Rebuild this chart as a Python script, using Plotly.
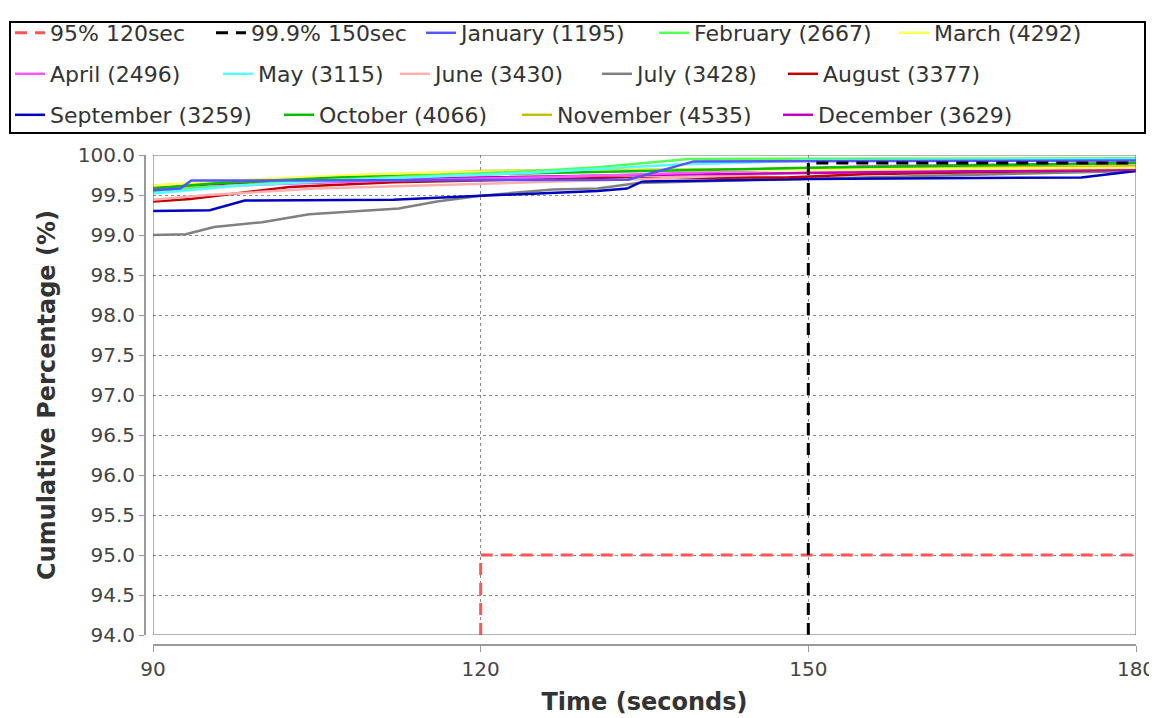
import plotly.graph_objects as go

# ---------------- data ----------------
months = ["January (1195)", "February (2667)", "March (4292)", "April (2496)",
          "May (3115)", "June (3430)", "July (3428)", "August (3377)",
          "September (3259)", "October (4066)", "November (4535)", "December (3629)"]
colors = ["#5555FF", "#55FF55", "#FFFF55", "#FF55FF", "#55FFFF", "#FFAFAF",
          "#808080", "#C00000", "#0000C0", "#00C000", "#C0C000", "#C000C0"]

jan_t = [90, 92.5, 93.5, 133.5, 139.5, 180]
jan_v = [99.56, 99.58, 99.68, 99.69, 99.92, 99.93]
feb_t = [90, 95, 105, 115, 125, 131, 139, 180]
feb_v = [99.55, 99.6, 99.68, 99.74, 99.8, 99.85, 99.95, 99.96]
mar_t = [90, 100, 110, 118, 130, 150, 180]
mar_v = [99.62, 99.7, 99.76, 99.79, 99.8, 99.82, 99.84]
apr_t = [90, 100, 112, 125, 140, 155, 180]
apr_v = [99.57, 99.63, 99.68, 99.72, 99.78, 99.86, 99.9]
may_t = [90, 98, 110, 125, 138, 150, 180]
may_v = [99.52, 99.62, 99.7, 99.78, 99.88, 99.93, 99.95]
jun_t = [90, 95, 105, 120, 135, 150, 180]
jun_v = [99.44, 99.5, 99.58, 99.64, 99.7, 99.78, 99.85]
jul_t = [90, 93, 95.6, 100, 104.3, 112.5, 116, 120, 126.6, 130.7, 134.4, 145.3, 155, 180]
jul_v = [99.0, 99.01, 99.1, 99.16, 99.26, 99.33, 99.42, 99.49, 99.57, 99.58, 99.65, 99.69, 99.72, 99.8]
aug_t = [90, 93.4, 102.5, 112, 130, 148, 155, 180]
aug_v = [99.42, 99.45, 99.6, 99.66, 99.71, 99.72, 99.76, 99.82]
sep_t = [90, 95.2, 98.4, 112, 120, 130.7, 133.4, 134.8, 150, 175, 180]
sep_v = [99.3, 99.31, 99.43, 99.44, 99.49, 99.55, 99.58, 99.67, 99.7, 99.72, 99.8]
oct_t = [90, 96, 107, 120, 135, 150, 180]
oct_v = [99.58, 99.65, 99.72, 99.76, 99.8, 99.84, 99.9]
nov_t = [90, 100, 112, 120, 140, 160, 180]
nov_v = [99.62, 99.68, 99.76, 99.8, 99.82, 99.84, 99.86]
dec_t = [90, 98, 110, 125, 140, 160, 180]
dec_v = [99.6, 99.65, 99.7, 99.73, 99.76, 99.79, 99.82]

month_t = [jan_t, feb_t, mar_t, apr_t, may_t, jun_t, jul_t, aug_t, sep_t, oct_t, nov_t, dec_t]
month_v = [jan_v, feb_v, mar_v, apr_v, may_v, jun_v, jul_v, aug_v, sep_v, oct_v, nov_v, dec_v]

thr95_t = [120, 120, 180]
thr95_v = [94, 95, 95]
thr999_t = [150, 150, 180]
thr999_v = [94, 99.9, 99.9]

x_ticks = [90, 120, 150, 180]
y_ticks = [94.0, 94.5, 95.0, 95.5, 96.0, 96.5, 97.0, 97.5, 98.0, 98.5, 99.0, 99.5, 100.0]

# ---------------- layout geometry (screen pixels; page body has an 8px margin) ----------------
FONT = "DejaVu Sans"
OFF = 8
W, H = 1149, 710
ML, MR, MT, MB = 132, 21, 147, 73
PW = W - ML - MR
PH = H - MT - MB


def px_x(p):
    return (p - OFF - ML) / PW


def px_y(p):
    return (H - MB - (p - OFF)) / PH


# legend entry text starts (screen px) and row centres
row_y = [33, 74, 115]
entry_pos = {
    "95% 120sec": (50, 0), "99.9% 150sec": (251, 0),
    months[0]: (461, 0), months[1]: (694, 0), months[2]: (934, 0),
    months[3]: (50, 1), months[4]: (258, 1), months[5]: (435, 1),
    months[6]: (637, 1), months[7]: (823, 1),
    months[8]: (50, 2), months[9]: (319, 2), months[10]: (557, 2), months[11]: (818, 2),
}

fig = go.Figure()
legend_layout = {}
legend_ids = {}
for k, name in enumerate(["95% 120sec", "99.9% 150sec"] + months):
    lid = "legend" if k == 0 else f"legend{k + 1}"
    legend_ids[name] = lid
    tx, row = entry_pos[name]
    legend_layout[lid] = dict(
        x=px_x(tx - 40), y=px_y(row_y[row]), xanchor="left", yanchor="middle",
        orientation="h", font=dict(family=FONT, size=22, color="#333333"),
        bgcolor="rgba(0,0,0,0)", borderwidth=0, itemwidth=30)

draw_order = [6, 8, 7, 5, 11, 3, 10, 2, 9, 1, 4, 0]
for i in draw_order:
    fig.add_trace(go.Scatter(x=month_t[i], y=month_v[i], mode="lines", name=months[i],
                             line=dict(color=colors[i], width=2.5),
                             legend=legend_ids[months[i]]))

fig.add_trace(go.Scatter(x=thr95_t, y=thr95_v, mode="lines", name="95% 120sec",
                         line=dict(color="#FF5555", width=3, dash="12px,8px"),
                         legend=legend_ids["95% 120sec"]))
fig.add_trace(go.Scatter(x=thr999_t, y=thr999_v, mode="lines", name="99.9% 150sec",
                         line=dict(color="#000000", width=3, dash="12px,8px"),
                         legend=legend_ids["99.9% 150sec"]))

fig.update_layout(**legend_layout)

grid = dict(showgrid=True, gridcolor="#888888", griddash="3px,3px", gridwidth=1,
            zeroline=False)

fig.update_xaxes(range=[90, 180], tickvals=x_ticks, ticktext=[str(v) for v in x_ticks],
                 domain=[px_x(153), 1], anchor="free", position=0,
                 showline=True, linecolor="#999999", linewidth=2,
                 ticks="outside", ticklen=6, tickcolor="#999999",
                 ticklabeloverflow="allow",
                 tickfont=dict(family=FONT, size=20, color="#444444"),
                 title=dict(text="Time (seconds)", standoff=12,
                            font=dict(family=FONT, size=24, color="#333333", weight="bold")),
                 **grid)
fig.update_yaxes(range=[94, 100], tickvals=y_ticks, ticktext=[f"{v:.1f}" for v in y_ticks],
                 domain=[px_y(635), 1], anchor="free", position=px_x(145),
                 showline=True, linecolor="#999999", linewidth=2,
                 ticks="outside", ticklen=5, tickcolor="#999999",
                 tickfont=dict(family=FONT, size=20, color="#444444"),
                 title=dict(text="Cumulative Percentage (%)", standoff=14,
                            font=dict(family=FONT, size=24, color="#333333", weight="bold")),
                 **grid)

# plot frame
fig.add_shape(type="rect", xref="x", yref="y", x0=90, x1=180, y0=94, y1=100,
              line=dict(color="#666666", width=1), layer="above")
# legend box
fig.add_shape(type="rect", xref="paper", yref="paper",
              x0=px_x(10), x1=px_x(1145), y0=px_y(133), y1=px_y(22),
              line=dict(color="#000000", width=2))

fig.update_layout(width=W, height=H,
                  margin=dict(l=ML, r=MR, t=MT, b=MB, autoexpand=False),
                  plot_bgcolor="white", paper_bgcolor="white",
                  font=dict(family=FONT), showlegend=True)

fig.write_html("out.html")
